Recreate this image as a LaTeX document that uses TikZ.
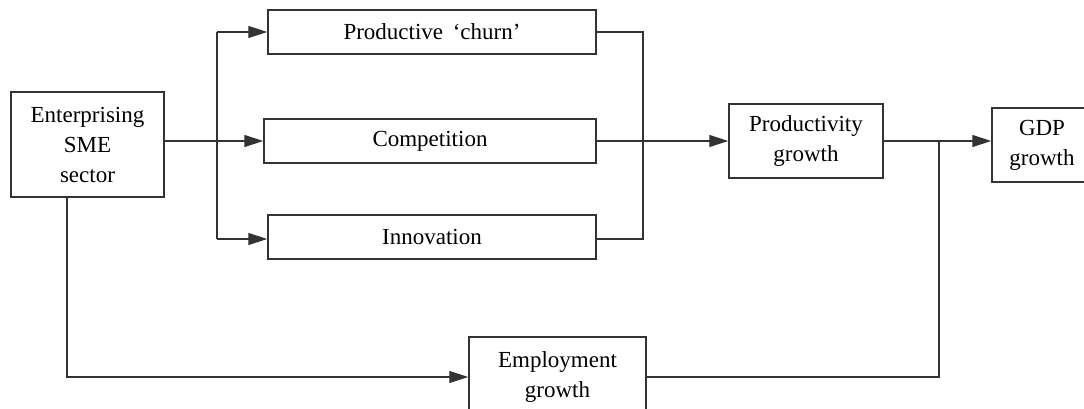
\documentclass[tikz,border=0pt]{standalone}
\usepackage{fontspec}
\setmainfont{Liberation Serif}
\usetikzlibrary{arrows.meta}
\begin{document}
\begin{tikzpicture}[x=1pt,y=-1pt,
  box/.style={draw=black!80, line width=1.5pt, fill=white, inner sep=0pt, align=center,
    font=\fontsize{23}{30}\selectfont, text=black},
  conn/.style={draw=black!80, line width=1.4pt},
  arr/.style={conn, -{Triangle[length=19pt,width=12pt]}}]
\useasboundingbox (0,0) rectangle (1084,409);
\clip (0,0) rectangle (1084,409);
\fill[white] (0,0) rectangle (1084,409);
% nodes
\node[box, minimum width=153pt, minimum height=105pt] (sme) at (87.5,144.5) {Enterprising\\SME\\sector};
\node[box, minimum width=328pt, minimum height=44pt] (churn) at (432,32) {Productive\ \,‘churn’};
\node[box, minimum width=332pt, minimum height=44pt] (comp) at (430,141) {Competition};
\node[box, minimum width=328pt, minimum height=44pt] (innov) at (432,237) {Innovation};
\node[box, minimum width=154pt, minimum height=74pt] (prod) at (806,141) {Productivity\\growth};
\node[box, minimum width=100pt, minimum height=74pt] (gdp) at (1042,145) {GDP\\growth};
\node[box, minimum width=177pt, minimum height=80pt] (emp) at (557.5,377) {Employment\\growth};
% junction coordinates
\coordinate (bt) at (217,32);
\coordinate (bb) at (217,239);
\coordinate (mt) at (643,32);
\coordinate (mb) at (643,239);
\coordinate (smeb) at (67,197);
\coordinate (smec) at (67,377);
\coordinate (jt) at (939,141);
\coordinate (jb) at (939,377);
% connectors
\draw[arr] (sme.east |- comp.west) -- (comp.west);
\draw[conn] (bt) -- (bb);
\draw[arr] (bt) -- (bt -| churn.west);
\draw[arr] (bb) -- (bb -| innov.west);
\draw[conn] (churn.east |- mt) -- (mt) -- (mb) -- (innov.east |- mb);
\draw[arr] (comp.east) -- (prod.west);
\draw[arr] (prod.east) -- (prod.east -| gdp.west);
\draw[arr] (smeb) -- (smec) -- (emp.west);
\draw[conn] (emp.east) -- (jb) -- (jt);
\end{tikzpicture}
\end{document}
